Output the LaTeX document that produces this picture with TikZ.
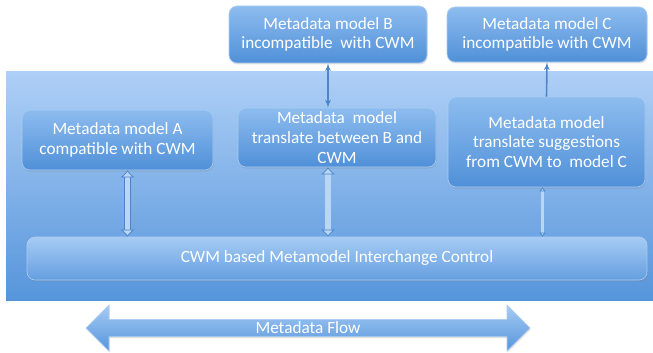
\documentclass[tikz,border=0pt]{standalone}
\usepackage{fontspec}
\setmainfont{Carlito}
\usetikzlibrary{shapes, arrows, arrows.meta, calc, shadows}

\definecolor{bgtop}{HTML}{AECFF6}
\definecolor{bgbot}{HTML}{5695DB}
\definecolor{boxtop}{HTML}{8DBCEF}
\definecolor{boxbot}{HTML}{5090D8}
\definecolor{boxline}{HTML}{A9CDF3}
\definecolor{bartop}{HTML}{A6CBF4}
\definecolor{barbot}{HTML}{659FE0}
\definecolor{linkcol}{HTML}{4C86C8}
\definecolor{hollow}{HTML}{B9D6F5}

\tikzset{
  model/.style={rectangle, rounded corners=8pt, draw=boxline, line width=0.6pt,
    top color=boxtop, bottom color=boxbot, text=white, align=center,
    font=\fontsize{17.2}{19.8}\selectfont, inner sep=2pt,
    drop shadow={opacity=0.25, shadow xshift=0.6pt, shadow yshift=-1.5pt}},
  bar/.style={model, top color=bartop, bottom color=barbot},
  link/.style={draw=linkcol, line width=1.6pt},
  hollowlink/.style={draw=linkcol, line width=0.7pt, double=hollow,
    double distance=#1},
}

\begin{document}
\begin{tikzpicture}[x=1pt, y=-1pt, >=latex']
\useasboundingbox (0,0) rectangle (653,353);
% background panel
\path[top color=bgtop, bottom color=bgbot] (6,72) rectangle (653,300);

\node[model, minimum width=198, minimum height=57] at (328, 34.5) (B)
    {Metadata model B\\incompatible~ with CWM};
\node[model, minimum width=200, minimum height=55] at (547, 34.5) (C)
    {Metadata model C\\incompatible with CWM};
\node[model, minimum width=191, minimum height=60] at (117.5, 140) (A)
    {Metadata model A\\compatible with CWM};
\node[model, minimum width=198, minimum height=59] at (337, 137.5) (trB)
    {Metadata~ model\\translate between B and\\CWM};
\node[model, minimum width=197, minimum height=90] at (546.5, 142) (trC)
    {Metadata model\\translate suggestions\\from CWM to~ model C};
\node[bar, minimum width=620, minimum height=43] at (337, 258.5) (CWM)
    {CWM based Metamodel Interchange Control};

\path (B.south) edge[link, <->] (B.south |- trB.north);
\path (trC.north) edge[link, ->] (C.south);

\path ([xshift=10pt]A.south) edge[hollowlink=5.5pt, {Latex[open, fill=hollow, length=7pt, width=14pt]}-{Latex[open, fill=hollow, length=7pt, width=14pt]}]
    ([xshift=10pt]A.south |- CWM.north);
\path (B.south |- trB.south) edge[hollowlink=5.5pt, {Latex[open, fill=hollow, length=7pt, width=14pt]}-{Latex[open, fill=hollow, length=7pt, width=14pt]}]
    (B.south |- CWM.north);
\path ([xshift=-4pt]trC.south) edge[hollowlink=2.2pt, {Latex[open, fill=hollow, length=4pt, width=7pt]}-{Latex[open, fill=hollow, length=4pt, width=7pt]}]
    ([xshift=-4pt]trC.south |- CWM.north);

% flow arrow
\node[double arrow, draw=boxline, line width=0.6pt, top color=bartop, bottom color=bgbot,
    minimum height=444, minimum width=46, double arrow head extend=10.5pt,
    inner sep=0pt, text=white, font=\fontsize{17.2}{19.8}\selectfont,
    drop shadow={opacity=0.25, shadow xshift=0.6pt, shadow yshift=-1.5pt}]
    at (308, 328) (flow) {Metadata Flow};
\end{tikzpicture}
\end{document}
